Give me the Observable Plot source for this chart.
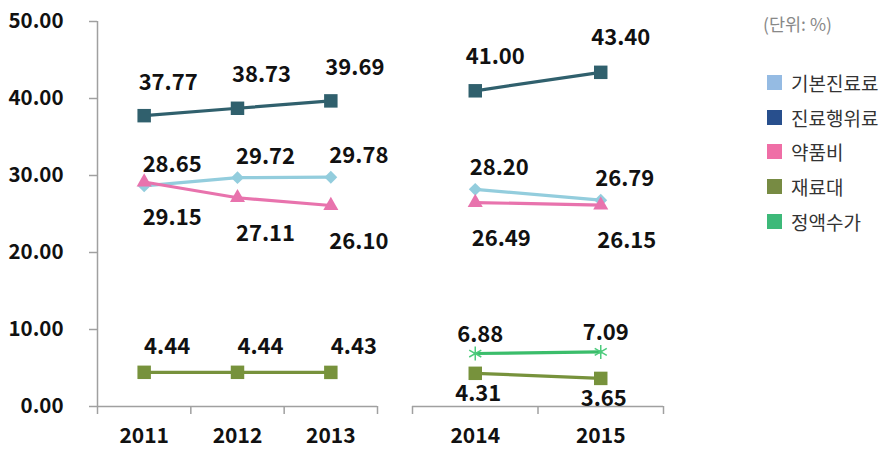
<!DOCTYPE html>
<html>
<head>
<meta charset="utf-8">
<script src="https://cdn.jsdelivr.net/npm/d3@7"></script>
<script src="https://cdn.jsdelivr.net/npm/@observablehq/plot@0.6"></script>
<style>
  html, body { margin: 0; padding: 0; background: #fff; }
  #wrap { position: relative; width: 884px; height: 450px; font-family: "Noto Sans CJK KR", "Noto Sans", sans-serif; }
  .panel { position: absolute; top: 0; }
  .panel svg text { font-family: "Noto Sans CJK KR", "Noto Sans", sans-serif; font-weight: 700; fill: #111; }
  #unit { position: absolute; left: 763px; top: 11px; font-size: 17.5px; color: #888; }
  .leg { position: absolute; left: 767px; display: flex; align-items: center; font-size: 19px; color: #333; white-space: nowrap; }
  .leg span.sw { width: 15px; height: 15px; margin-right: 9px; display: inline-block; }
</style>
</head>
<body>
<div id="wrap">
  <div id="left" class="panel" style="left:0px"></div>
  <div id="right" class="panel" style="left:400px"></div>
  <div id="unit">(단위: %)</div>
  <div id="legend"></div>
</div>
<script>
// ---- data ----
const years = [2011, 2012, 2013, 2014, 2015];
const seriesNames = ["기본진료료", "진료행위료", "약품비", "재료대", "정액수가"];
const basicFee = [28.65, 29.72, 29.78, 28.20, 26.79];
const procedureFee = [37.77, 38.73, 39.69, 41.00, 43.40];
const drugCost = [29.15, 27.11, 26.10, 26.49, 26.15];
const materialCost = [4.44, 4.44, 4.43, 4.31, 3.65];
const flatFee = [null, null, null, 6.88, 7.09];
const yTicks = [0, 10, 20, 30, 40, 50];
const leftYears = [2011, 2012, 2013];
const rightYears = [2014, 2015];

// ---- styles ----
const lineColor = {"기본진료료": "#93CDDD", "진료행위료": "#30606D", "약품비": "#E873AD", "재료대": "#77923C", "정액수가": "#3BBD6B"};
const legendColor = {"기본진료료": "#95BBE3", "진료행위료": "#284F8D", "약품비": "#EF6EA6", "재료대": "#778B43", "정액수가": "#3DB979"};
const symbolOf = {"기본진료료": "diamond2", "진료행위료": "square", "약품비": "triangle", "재료대": "square", "정액수가": "asterisk"};
const rOf = {"기본진료료": 5.8, "진료행위료": 7.6, "약품비": 5.6, "재료대": 7.6, "정액수가": 6.6};

const allValues = [basicFee, procedureFee, drugCost, materialCost, flatFee];
const rows = [];
seriesNames.forEach((name, i) => {
  years.forEach((yr, j) => {
    const v = allValues[i][j];
    if (v != null) rows.push({series: name, year: yr, value: v});
  });
});

function panel(yrs, opts) {
  const data = rows.filter(d => yrs.includes(d.year));
  const bounds = yrs.map(y => y - 0.5).concat([yrs[yrs.length - 1] + 0.5]);
  const marks = [];
  marks.push(Plot.ruleY([0], {stroke: "#A0A0A0", strokeWidth: 1.5}));
  marks.push(Plot.axisX({ticks: bounds, tickSize: 8, tickFormat: () => "", label: null, stroke: "#A0A0A0", strokeWidth: 1.5}));
  marks.push(Plot.axisX({ticks: yrs, tickSize: 0, tickPadding: 22, tickFormat: d => String(d), label: null, fontSize: 21}));
  if (opts.yAxis) {
    marks.push(Plot.ruleX([bounds[0]], {stroke: "#A0A0A0", strokeWidth: 1.5}));
    marks.push(Plot.axisY({ticks: yTicks, tickSize: 8, tickPadding: 26, tickFormat: d => d.toFixed(2), label: null, fontSize: 20.5, stroke: "#A0A0A0", strokeWidth: 1.5}));
  }
  for (const name of seriesNames) {
    const sd = data.filter(d => d.series === name);
    if (!sd.length) continue;
    marks.push(Plot.line(sd, {x: "year", y: "value", stroke: lineColor[name], strokeWidth: 3.2}));
    const sym = symbolOf[name];
    if (sym === "asterisk") {
      marks.push(Plot.dot(sd, {x: "year", y: "value", symbol: sym, r: rOf[name], stroke: "#4CCB7C", strokeWidth: 1.5, fill: "none"}));
    } else {
      marks.push(Plot.dot(sd, {x: "year", y: "value", symbol: sym, r: rOf[name], fill: lineColor[name], stroke: "none"}));
    }
    const off = opts.labelOffsets[name];
    marks.push(Plot.text(sd, {x: "year", y: "value", text: d => d.value.toFixed(2), dx: off[0], dy: off[1], fontSize: 22, fill: "#111"}));
  }
  return Plot.plot({
    width: opts.width, height: 450,
    marginLeft: opts.ml, marginRight: opts.mr, marginTop: 21, marginBottom: 44,
    x: {domain: [bounds[0], bounds[bounds.length - 1]], axis: null},
    y: {domain: [0, 50], axis: null},
    style: {background: "transparent", overflow: "visible"},
    marks
  });
}

document.getElementById("left").appendChild(panel(leftYears, {
  width: 390, ml: 97, mr: 13, yAxis: true,
  labelOffsets: {"기본진료료": [28, -21], "진료행위료": [24, -33], "약품비": [28, 36], "재료대": [23, -25], "정액수가": [0, -20]}
}));
document.getElementById("right").appendChild(panel(rightYears, {
  width: 280, ml: 12, mr: 17, yAxis: false,
  labelOffsets: {"기본진료료": [24, -21], "진료행위료": [20, -34], "약품비": [26, 36], "재료대": [3, 21], "정액수가": [5, -19]}
}));

const legend = document.getElementById("legend");
const legY = [82, 117, 151, 186, 221];
seriesNames.forEach((name, i) => {
  const div = document.createElement("div");
  div.className = "leg";
  div.style.top = (legY[i] - 13) + "px";
  div.innerHTML = `<span class="sw" style="background:${legendColor[name]}"></span>${name}`;
  legend.appendChild(div);
});
</script>
</body>
</html>
